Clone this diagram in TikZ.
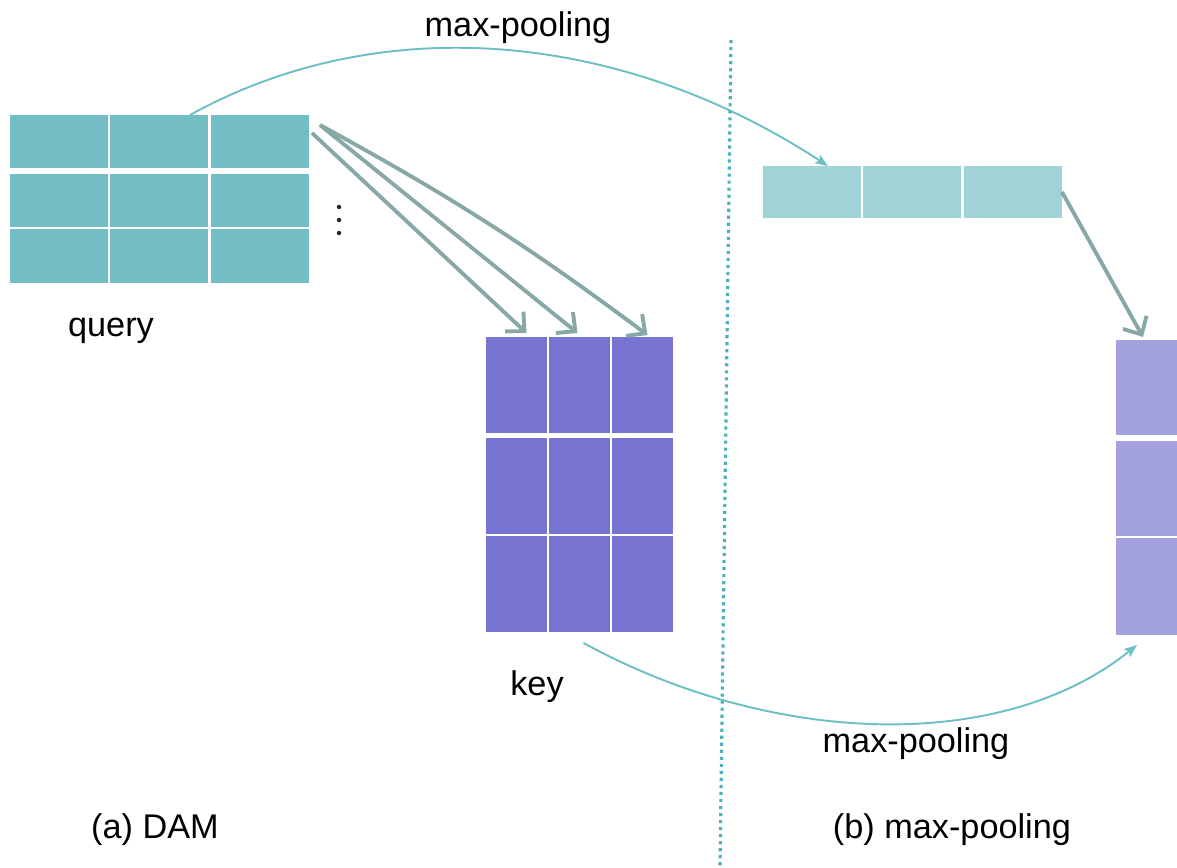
\documentclass[tikz,border=0pt]{standalone}
\usepackage{fontspec}
\setmainfont{Liberation Sans}
\usetikzlibrary{arrows.meta}

\definecolor{qcol}{HTML}{72BEC4}
\definecolor{pqcol}{HTML}{A0D3D7}
\definecolor{kcol}{HTML}{7775D1}
\definecolor{pkcol}{HTML}{A3A2DE}
\definecolor{poolcol}{HTML}{6CC0C4}
\definecolor{divcol}{HTML}{4AB2B8}
\definecolor{attncol}{HTML}{88A7A7}

\begin{document}
\begin{tikzpicture}[x=0.02cm, y=-0.02cm,
  cell/.style={inner sep=0pt, outer sep=0pt, anchor=north west, minimum width=1.96cm},
  lbl/.style={font=\fontsize{19.5}{23}\selectfont, inner sep=0pt, anchor=base},
  dotmark/.style={circle, fill=black!85, inner sep=0pt, minimum size=0.09cm},
  pool/.style={draw=poolcol, line width=1.1pt, -{Stealth[length=0.26cm, width=0.2cm, inset=0.06cm]}},
  attn/.style={draw=attncol, line width=2.2pt, -{Straight Barb[length=0.28cm, width=0.54cm]}},
  divider/.style={draw=divcol, line width=1.8pt, dash pattern=on 1.8pt off 2.2pt}]
\useasboundingbox (0,0) rectangle (1177,868);

% query matrix
\foreach \c/\x in {1/10,2/110,3/211}
  \foreach \r/\y/\h in {1/115/53,2/174/53,3/229/54}
    \node[cell, fill=qcol, minimum height=\h*0.02cm] (q-\r-\c) at (\x,\y) {};

% key matrix
\foreach \c/\x in {1/486,2/549,3/612}
  \foreach \r/\y in {1/337,2/438,3/536}
    \node[cell, fill=kcol, minimum width=1.22cm, minimum height=1.92cm] (k-\r-\c) at (\x,\y) {};

% pooled query
\foreach \c/\x in {1/763,2/863,3/964}
  \node[cell, fill=pqcol, minimum height=1.04cm] (pq-\c) at (\x,166) {};

% pooled key
\foreach \r/\y/\h in {1/340/95,2/441/95,3/538/97}
  \node[cell, fill=pkcol, minimum width=1.24cm, minimum height=\h*0.02cm] (pk-\r) at (1116,\y) {};

% vertical ellipsis
\foreach \i/\y in {1/207,2/220,3/233}
  \node[dotmark] (dot-\i) at (339,\y) {};

% attention arrows
\draw[attn] ([shift={(3,18)}]q-1-3.north east) -- ([shift={(10,-4)}]k-1-1.north);
\draw[attn] ([shift={(11,10)}]q-1-3.north east) -- ([shift={(-2,-4)}]k-1-2.north);
\draw[attn] ([shift={(11,10)}]q-1-3.north east) to[bend left=4] ([shift={(5,-2)}]k-1-3.north);
\draw[attn] (pq-3.east) -- ([shift={(-4,-3)}]pk-1.north);

% pooling curves
\draw[pool] ([shift={(31,0)}]q-1-2.north) .. controls (380,10) and (620,30) .. ([shift={(16,0)}]pq-1.north);
\draw[pool] ([shift={(4,11)}]k-3-2.south) .. controls (770,745) and (1000,755) .. ([shift={(21,10)}]pk-3.south west);

% divider
\coordinate (divtop) at (731,40);
\coordinate (divbot) at (720,868);
\draw[divider] (divtop) -- (divbot);

% labels
\node[lbl] (toplbl) at (518,37) {max-pooling};
\node[lbl] (qlbl) at (111,337) {query};
\node[lbl] (klbl) at (537,695) {key};
\node[lbl] (botlbl) at (916,752) {max-pooling};
\node[lbl] (capa) at (155,838) {(a) DAM};
\node[lbl] (capb) at (952,838) {(b) max-pooling};
\end{tikzpicture}
\end{document}
